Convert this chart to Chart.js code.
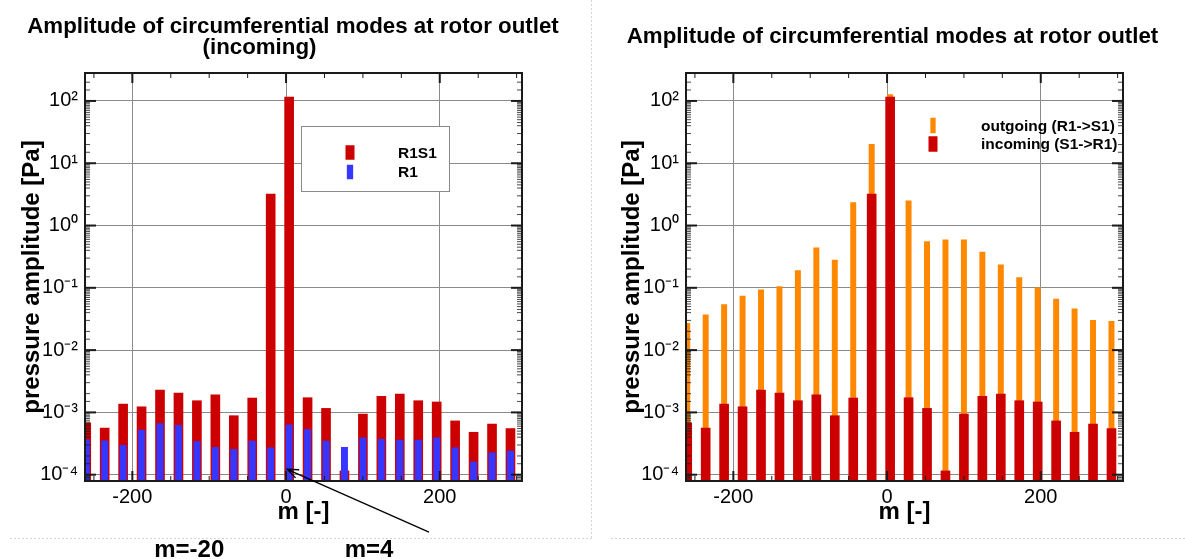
<!DOCTYPE html>
<html>
<head>
<meta charset="utf-8">
<script src="https://cdn.jsdelivr.net/npm/chart.js@4.4.1/dist/chart.umd.min.js"></script>
<style>
  html, body { margin: 0; padding: 0; background: #fff; }
  #wrap { position: relative; width: 1185px; height: 559px; overflow: hidden; }
  canvas { position: absolute; top: 0; }
  #chartLeft { left: 0; }
  #chartRight { left: 600px; }
</style>
</head>
<body>
<div id="wrap">
  <canvas id="chartLeft" width="600" height="559"></canvas>
  <canvas id="chartRight" width="585" height="559"></canvas>
</div>
<script>
// circumferential mode orders m
const modes = [-260, -236, -212, -188, -164, -140, -116, -92, -68, -44, -20, 4,
               28, 52, 76, 100, 124, 148, 172, 196, 220, 244, 268, 292];

// incoming amplitudes [Pa], rotor-stator case (R1S1)
const incomingR1S1 = [6.8e-4, 5.6e-4, 1.36e-3, 1.23e-3, 2.28e-3, 2.04e-3, 1.54e-3, 1.92e-3,
                      8.85e-4, 1.70e-3, 3.2, 115, 1.72e-3, 1.16e-3, 1.15e-4, 9.4e-4,
                      1.81e-3, 1.97e-3, 1.54e-3, 1.47e-3, 7.3e-4, 4.8e-4, 6.5e-4, 5.5e-4];

// incoming amplitudes [Pa], rotor alone (R1)
const incomingR1 = [3.6e-4, 3.5e-4, 2.96e-4, 5.2e-4, 6.6e-4, 6.2e-4, 3.4e-4, 2.75e-4,
                    2.55e-4, 3.47e-4, 2.7e-4, 6.3e-4, 5.3e-4, 3.47e-4, 2.75e-4, 3.9e-4,
                    3.7e-4, 3.6e-4, 3.6e-4, 3.9e-4, 2.7e-4, 1.6e-4, 2.25e-4, 2.4e-4];

// outgoing amplitudes [Pa] (R1->S1)
const outgoing = [0.027, 0.037, 0.054, 0.074, 0.093, 0.105, 0.19, 0.44,
                  0.28, 2.34, 20.2, 126, 2.49, 0.55, 0.59, 0.59,
                  0.375, 0.235, 0.146, 0.1, 0.066, 0.046, 0.030, 0.029];

const xTicks = [-200, 0, 200];
const yTicks = [1e-4, 1e-3, 1e-2, 1e-1, 1, 10, 100];
// minor tick multipliers inside each decade
const yMinor = [1.5, 2, 3, 4, 4.5, 5, 5.5, 6, 6.5, 7, 7.5, 8, 8.5, 9, 9.5];

const FONT = "'Liberation Sans', Arial, Helvetica, sans-serif";
const RED = '#cc0000', BLUE = '#3636ff', ORANGE = '#ff8800';

const SUP = {'-': '\u207B', '0': '\u2070', '1': '\u00B9', '2': '\u00B2', '3': '\u00B3',
             '4': '\u2074', '5': '\u2075', '6': '\u2076', '7': '\u2077', '8': '\u2078', '9': '\u2079'};
function powLabel(v) {
  const e = String(Math.round(Math.log10(v)));
  return '10' + e.split('').map(c => SUP[c]).join('');
}

function points(vals) {
  return modes.map((m, i) => ({x: m, y: vals[i]}));
}

// box around the plot + inward major/minor ticks on all four sides
const frame = {
  id: 'frame',
  afterDatasetsDraw(chart) {
    const {ctx, chartArea: a, scales: {x, y}} = chart;
    ctx.save();
    ctx.strokeStyle = '#1a1a1a';
    const seg = (x1, y1, x2, y2) => { ctx.beginPath(); ctx.moveTo(x1, y1); ctx.lineTo(x2, y2); ctx.stroke(); };
    for (let v = -250; v <= 300; v += 50) {
      const px = x.getPixelForValue(v);
      const major = v % 200 === 0;
      ctx.lineWidth = major ? 2 : 1;
      const len = major ? 10 : 5;
      seg(px, a.top, px, a.top + len);
      seg(px, a.bottom, px, a.bottom - len);
    }
    for (let e = -5; e <= 3; e++) {
      const decade = Math.pow(10, e);
      [1].concat(yMinor).forEach(k => {
        const v = k * decade;
        if (v < y.min || v > y.max) return;
        const py = y.getPixelForValue(v);
        const major = k === 1;
        ctx.lineWidth = major ? 2 : 0.8;
        const len = major ? 11 : 5;
        seg(a.left, py, a.left + len, py);
        seg(a.right, py, a.right - len, py);
      });
    }
    ctx.lineWidth = 2;
    ctx.strokeRect(a.left, a.top, a.right - a.left, a.bottom - a.top);
    ctx.restore();
  }
};

function drawLegend(chart, spec) {
  const {ctx} = chart;
  ctx.save();
  if (spec.box) {
    ctx.fillStyle = '#fff';
    ctx.fillRect(spec.box[0], spec.box[1], spec.box[2], spec.box[3]);
    ctx.strokeStyle = '#8a8a8a';
    ctx.lineWidth = 1;
    ctx.strokeRect(spec.box[0] + 0.5, spec.box[1] + 0.5, spec.box[2], spec.box[3]);
  }
  ctx.font = 'bold 15.5px ' + FONT;
  ctx.textBaseline = 'middle';
  chart.data.datasets.forEach((ds, i) => {
    const cy = spec.rows[i];
    ctx.fillStyle = ds.backgroundColor;
    ctx.fillRect(spec.markX - ds.barThickness / 2, cy - spec.markH / 2, ds.barThickness, spec.markH);
    ctx.fillStyle = '#000';
    ctx.fillText(ds.label, spec.textX, cy + 1);
  });
  ctx.restore();
}

function drawTitle(ctx, lines) {
  ctx.save();
  ctx.fillStyle = '#000';
  ctx.font = 'bold 22.3px ' + FONT;
  ctx.textAlign = 'center';
  ctx.textBaseline = 'alphabetic';
  lines.forEach(l => ctx.fillText(l.text, l.x, l.y));
  ctx.restore();
}

function dottedBorder(ctx, segs) {
  ctx.save();
  ctx.strokeStyle = '#d4d4d4';
  ctx.lineWidth = 1;
  ctx.setLineDash([2, 2]);
  segs.forEach(s => { ctx.beginPath(); ctx.moveTo(s[0], s[1]); ctx.lineTo(s[2], s[3]); ctx.stroke(); });
  ctx.restore();
}

function baseOptions(rightPad, yWidth) {
  return {
    responsive: false,
    animation: false,
    events: [],
    layout: { padding: { left: 0, right: rightPad, top: 73, bottom: 0 } },
    datasets: { bar: { grouped: false } },
    plugins: {
      legend: { display: false },
      tooltip: { enabled: false },
      title: { display: false }
    },
    scales: {
      x: {
        type: 'linear',
        offset: false,
        min: -261.6,
        max: 307,
        afterBuildTicks: s => { s.ticks = xTicks.map(v => ({value: v})); },
        afterFit: s => { s.height = 78; },
        grid: { color: '#8a8a8a', lineWidth: 1, drawTicks: false, offset: false },
        border: { display: false },
        ticks: {
          font: { family: FONT, size: 20 },
          color: '#000',
          padding: 4,
          maxRotation: 0,
          callback: v => String(v)
        },
        title: {
          display: true,
          text: 'm [-]',
          color: '#000',
          font: { family: FONT, size: 24, weight: 'bold' },
          padding: { top: 0, bottom: 32 }
        }
      },
      y: {
        type: 'logarithmic',
        min: 7.92e-5,
        max: 281,
        afterBuildTicks: s => { s.ticks = yTicks.map(v => ({value: v})); },
        afterFit: s => { s.width = yWidth; },
        grid: { color: '#8a8a8a', lineWidth: 1, drawTicks: false },
        border: { display: false },
        ticks: {
          font: { family: FONT, size: 20 },
          color: '#000',
          padding: 7,
          callback: v => powLabel(v)
        },
        title: {
          display: true,
          text: 'pressure amplitude [Pa]',
          color: '#000',
          font: { family: FONT, size: 24, weight: 'bold' },
          padding: { top: 18, bottom: 0 }
        }
      }
    }
  };
}

// left: incoming modes, R1S1 vs R1
new Chart(document.getElementById('chartLeft'), {
  type: 'bar',
  data: {
    datasets: [
      { label: 'R1S1', data: points(incomingR1S1), backgroundColor: RED, barThickness: 9, order: 1 },
      { label: 'R1', data: points(incomingR1), backgroundColor: BLUE, barThickness: 6.3, order: 0 }
    ]
  },
  options: baseOptions(78, 85),
  plugins: [frame, {
    id: 'leftDecor',
    afterDraw(chart) {
      const {ctx, scales: {x, y}} = chart;
      drawTitle(ctx, [
        { text: 'Amplitude of circumferential modes at rotor outlet', x: 293, y: 32.5 },
        { text: '(incoming)', x: 259.5, y: 53.5 }
      ]);
      drawLegend(chart, { box: [301, 126, 148, 65], markX: 350, markH: 14.5, textX: 398, rows: [152.5, 172] });
      dottedBorder(ctx, [[10, 538.5, 591.5, 538.5], [591.5, 0, 591.5, 538.5]]);

      // arrow pointing at the m=4 bar
      const tipX = x.getPixelForValue(1.5), tipY = y.getPixelForValue(1.22e-4);
      const tailX = x.getPixelForValue(186), tailY = y.getPixelForValue(1.2e-5);
      const ang = Math.atan2(tailY - tipY, tailX - tipX);
      ctx.save();
      ctx.strokeStyle = '#000';
      ctx.lineWidth = 1.3;
      ctx.beginPath();
      ctx.moveTo(tailX, tailY);
      ctx.lineTo(tipX, tipY);
      ctx.moveTo(tipX + 12 * Math.cos(ang - 0.38), tipY + 12 * Math.sin(ang - 0.38));
      ctx.lineTo(tipX, tipY);
      ctx.lineTo(tipX + 12 * Math.cos(ang + 0.38), tipY + 12 * Math.sin(ang + 0.38));
      ctx.stroke();

      ctx.fillStyle = '#000';
      ctx.font = 'bold 24px ' + FONT;
      ctx.textAlign = 'center';
      ctx.textBaseline = 'alphabetic';
      ctx.fillText('m=-20', x.getPixelForValue(-126), 557);
      ctx.fillText('m=4', x.getPixelForValue(108), 557);
      ctx.restore();
    }
  }]
});

// right: outgoing vs incoming, R1S1
new Chart(document.getElementById('chartRight'), {
  type: 'bar',
  data: {
    datasets: [
      { label: 'outgoing (R1->S1)', data: points(outgoing), backgroundColor: ORANGE, barThickness: 5.3, order: 1 },
      { label: 'incoming (S1->R1)', data: points(incomingR1S1), backgroundColor: RED, barThickness: 9, order: 0 }
    ]
  },
  options: baseOptions(62, 86),
  plugins: [frame, {
    id: 'rightDecor',
    afterDraw(chart) {
      const {ctx} = chart;
      drawTitle(ctx, [
        { text: 'Amplitude of circumferential modes at rotor outlet', x: 292.5, y: 42.5 }
      ]);
      drawLegend(chart, { markX: 333, markH: 15.5, textX: 381, rows: [125.5, 144] });
      dottedBorder(ctx, [[11, 538.5, 585, 538.5]]);
    }
  }]
});
</script>
</body>
</html>
